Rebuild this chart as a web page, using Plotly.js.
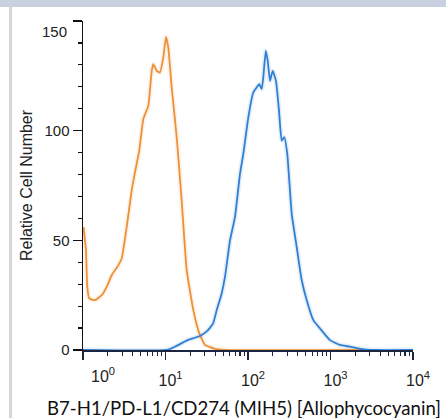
<!DOCTYPE html>
<html>
<head>
<meta charset="utf-8">
<script src="https://cdn.plot.ly/plotly-3.0.1.min.js"></script>
<style>
html,body{margin:0;padding:0;background:#fff;}
#chart{width:446px;height:418px;}
</style>
</head>
<body>
<div id="chart"></div>
<script>
// Isotype control (orange) – fluorescence intensity and relative cell number
var isoX = [1.014, 1.086, 1.127, 1.191, 1.396, 1.687, 1.936, 2.228, 2.679, 2.944, 3.388, 3.890, 4.266, 4.808, 5.383, 6.194, 6.808, 7.112, 7.816, 8.570, 9.397, 10.14, 10.81, 11.89, 13.68, 15.70, 18.07, 21.73, 25.70, 30.13, 39.81, 52.48, 2512];
var isoY = [56, 45.5, 28.8, 23.5, 22.7, 25, 28.8, 34.1, 38.6, 41.7, 56.1, 72.7, 81, 90.9, 105.3, 111.4, 127.3, 130.3, 127.3, 126.5, 133.3, 142.7, 137.9, 119.7, 96.9, 68.2, 36.4, 18.2, 7.6, 2.3, 0.5, 0, 0];

// B7-H1/PD-L1 stained (blue)
var pdX = [1, 10.42, 13.03, 18.24, 26.18, 31.84, 37.67, 41.78, 47.97, 52.60, 60.53, 69.50, 79.98, 87.70, 100.9, 115.9, 127.4, 137.1, 146.6, 153.1, 164.1, 173.4, 184.9, 199.1, 218.3, 237.7, 255.9, 275.4, 299.2, 338.8, 389.0, 447.7, 515.2, 619.4, 746.5, 986.3, 1303, 1722, 2280, 3467, 10000];
var pdY = [0, 0, 1.5, 4.4, 6.4, 8.6, 12, 18.2, 25.8, 33.3, 50, 60.6, 80.3, 89.4, 106.1, 117.4, 119.7, 121.2, 119, 124.2, 136.4, 131.8, 122.7, 127.3, 122.7, 109.1, 95.5, 97, 89.4, 62.1, 47, 31.8, 22.7, 13.6, 9.8, 4.5, 2.3, 1.5, 0.5, 0, 0];

var xTickVals = [1, 10, 100, 1000, 10000];
var xTickText = ['', '10<sup>1</sup>', '10<sup>2</sup>', '10<sup>3</sup>', '10<sup>4</sup>'];
var yTickVals = [0, 50, 100, 150];
var yTickText = ['0', '50', '100', ''];

var xTitle = 'B7-H1/PD-L1/CD274 (MIH5) [Allophycocyanin]';
var yTitle = 'Relative Cell Number';

var orange = '#ec9138';
var blue = '#2f7fd2';

var traces = [
  {x: isoX, y: isoY, type: 'scatter', mode: 'lines', line: {color: orange, width: 5, shape: 'spline', smoothing: 0.4}, opacity: 0.12, hoverinfo: 'skip', showlegend: false},
  {x: pdX, y: pdY, type: 'scatter', mode: 'lines', line: {color: blue, width: 5, shape: 'spline', smoothing: 0.4}, opacity: 0.12, hoverinfo: 'skip', showlegend: false},
  {x: isoX, y: isoY, type: 'scatter', mode: 'lines', line: {color: orange, width: 1.8, shape: 'spline', smoothing: 0.4}, showlegend: false},
  {x: pdX, y: pdY, type: 'scatter', mode: 'lines', line: {color: blue, width: 1.8, shape: 'spline', smoothing: 0.4}, showlegend: false}
];

var yTickFont = {family: 'Liberation Sans, Arial, sans-serif', size: 15, color: '#222'};
var xTickFont = {family: 'Liberation Sans, Arial, sans-serif', size: 16, color: '#222'};

var layout = {
  width: 446, height: 418,
  margin: {l: 83, r: 33, t: 21, b: 68},
  paper_bgcolor: '#fff', plot_bgcolor: '#fff',
  showlegend: false,
  xaxis: {
    type: 'log', range: [0, 4], showgrid: false, zeroline: false,
    showline: true, linecolor: '#1b2540', linewidth: 1.5,
    ticks: 'outside', ticklen: 8, tickwidth: 1.3, tickcolor: '#1b2540',
    tickvals: xTickVals, ticktext: xTickText, tickfont: xTickFont,
    ticklabelshift: 5, ticklabelstandoff: 7,
    minor: {ticks: 'outside', ticklen: 4, tickwidth: 1.2, tickcolor: '#1b2540', dtick: 'D1', showgrid: false}
  },
  yaxis: {
    range: [0, 150], showgrid: false, zeroline: false,
    showline: true, linecolor: '#111', linewidth: 1.5,
    ticks: 'outside', ticklen: 9, tickwidth: 1.3, tickcolor: '#111',
    tickvals: yTickVals, ticktext: yTickText, tickfont: yTickFont,
    minor: {ticks: 'outside', ticklen: 4, tickwidth: 1.2, tickcolor: '#111', dtick: 10, showgrid: false},
    title: {text: yTitle, font: {family: 'Liberation Sans, Arial, sans-serif', size: 16, color: '#222'}, standoff: 8}
  },
  annotations: [
    {text: xTitle, xref: 'paper', yref: 'paper', x: 0.488, y: -0.176, xanchor: 'center', yanchor: 'middle', showarrow: false, font: {family: 'Lato, sans-serif', size: 18.6, color: '#111'}},
    {text: '150', xref: 'paper', yref: 'y', x: 0, y: 145, xanchor: 'right', yanchor: 'middle', xshift: -14, showarrow: false, font: yTickFont},
    {text: '10<sup>0</sup>', xref: 'x', yref: 'paper', x: 0, y: 0, xanchor: 'center', yanchor: 'top', xshift: 20, yshift: -13, showarrow: false, font: xTickFont}
  ],
  shapes: [
    {type: 'rect', xref: 'paper', yref: 'paper', x0: -0.3, x1: 1.2, y0: 1.0426, y1: 1.1, fillcolor: '#c9d0df', line: {width: 0}, layer: 'below'},
    {type: 'rect', xref: 'paper', yref: 'paper', x0: -0.2242, x1: -0.2152, y0: -0.3, y1: 1.0426, fillcolor: '#d6d6d6', line: {width: 0}, layer: 'below'}
  ]
};

Plotly.newPlot('chart', traces, layout, {staticPlot: true, displayModeBar: false});
</script>
</body>
</html>
